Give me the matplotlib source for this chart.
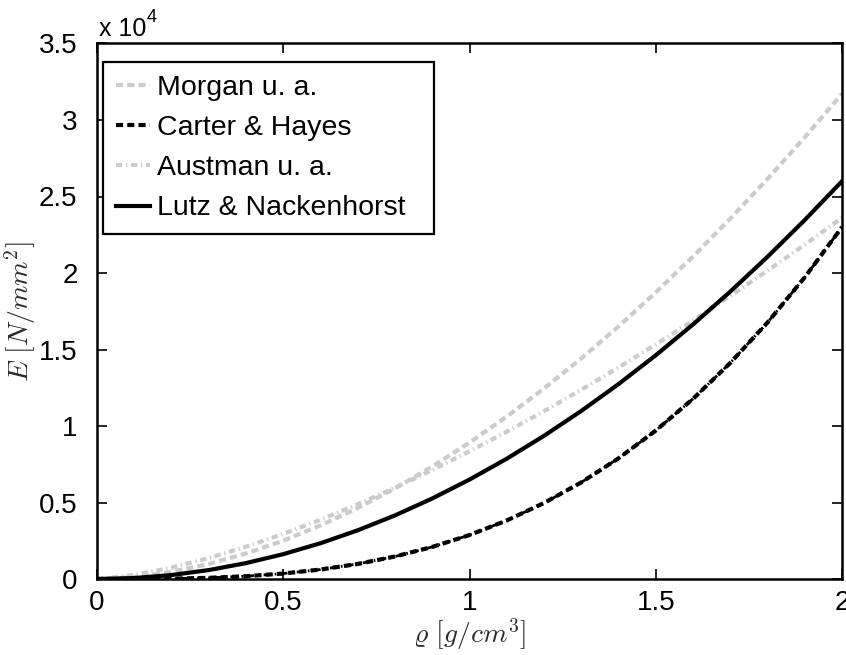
import numpy as np
import matplotlib
matplotlib.use("Agg")
import matplotlib.pyplot as plt
from matplotlib.ticker import FuncFormatter

plt.rcParams['font.family'] = ['Liberation Sans', 'DejaVu Sans']
plt.rcParams['mathtext.fontset'] = 'cm'

# Dichte rho [g/cm^3]
rho = [0.0, 0.1, 0.2, 0.3, 0.4, 0.5, 0.6, 0.7, 0.8, 0.9, 1.0,
       1.1, 1.2, 1.3, 1.4, 1.5, 1.6, 1.7, 1.8, 1.9, 2.0]

# E-Modul [N/mm^2]
morgan = [0, 132, 469, 985, 1668, 2509, 3503, 4644, 5929, 7355, 8920,
          10620, 12452, 14417, 16511, 18734, 21081, 23555, 26153, 28872, 31714]
carter = [0, 3, 23, 78, 184, 359, 621, 986, 1472, 2096, 2875,
          3827, 4968, 6316, 7889, 9703, 11776, 14125, 16767, 19720, 23000]
austman = [0, 264, 746, 1371, 2111, 2951, 3879, 4888, 5972, 7126, 8346,
           9629, 10971, 12371, 13825, 15332, 16891, 18499, 20155, 21858, 23606]
lutz = [0, 65, 260, 585, 1040, 1625, 2340, 3185, 4160, 5265, 6500,
        7865, 9360, 10985, 12740, 14625, 16640, 18785, 21060, 23465, 26000]

grau = '#cbcbcb'

fig = plt.figure(figsize=(8.46, 6.55), dpi=100)
ax = fig.add_axes([0.1147, 0.116, 0.8806, 0.8176])

ax.plot(rho, morgan, color=grau, lw=3, dashes=(1.7, 1.0), label='Morgan u. a.')
ax.plot(rho, carter, color='k', lw=3, dashes=(1.7, 1.0), label='Carter & Hayes')
ax.plot(rho, carter, color='k', lw=2, dashes=(2.6, 1.4, 0.6, 1.4))
ax.plot(rho, austman, color=grau, lw=3, dashes=(1.5, 0.9, 0.3, 0.9), label='Austman u. a.')
ax.plot(rho, lutz, color='k', lw=3, label='Lutz & Nackenhorst  ')

ax.set_xlim(0, 2)
ax.set_ylim(0, 35000)
ax.set_xticks([0, 0.5, 1, 1.5, 2])
ax.set_yticks(np.arange(0, 35001, 5000))
ax.xaxis.set_major_formatter(FuncFormatter(lambda v, p: '%g' % v))
ax.yaxis.set_major_formatter(FuncFormatter(lambda v, p: '%g' % (v / 1e4)))
ax.tick_params(direction='in', top=True, right=True, length=7, width=1.2,
               labelsize=20)
ax.tick_params(axis='x', pad=8)
ax.tick_params(axis='y', pad=14)
for s in ax.spines.values():
    s.set_linewidth(1.8)

# Skalierungsfaktor der y-Achse
ax.text(0.002, 1.004, 'x 10', transform=ax.transAxes, fontsize=18, va='bottom', ha='left')
ax.text(0.067, 1.033, '4', transform=ax.transAxes, fontsize=13, va='bottom', ha='left')

ax.set_xlabel(r'$\varrho\ [g/cm^3]$', fontsize=20, color='#2a2a2a', labelpad=0)
ax.set_ylabel(r'$E\ [N/mm^2]$', fontsize=20, color='#2a2a2a', labelpad=1)

leg = ax.legend(loc='upper left', bbox_to_anchor=(0.008, 0.9655), borderaxespad=0,
                fontsize=20.5, handlelength=1.2, handletextpad=0.25,
                borderpad=0.45, labelspacing=0.5, fancybox=False, framealpha=1,
                edgecolor='k')
leg.get_frame().set_linewidth(1.6)

fig.savefig('out.png', dpi=100)
